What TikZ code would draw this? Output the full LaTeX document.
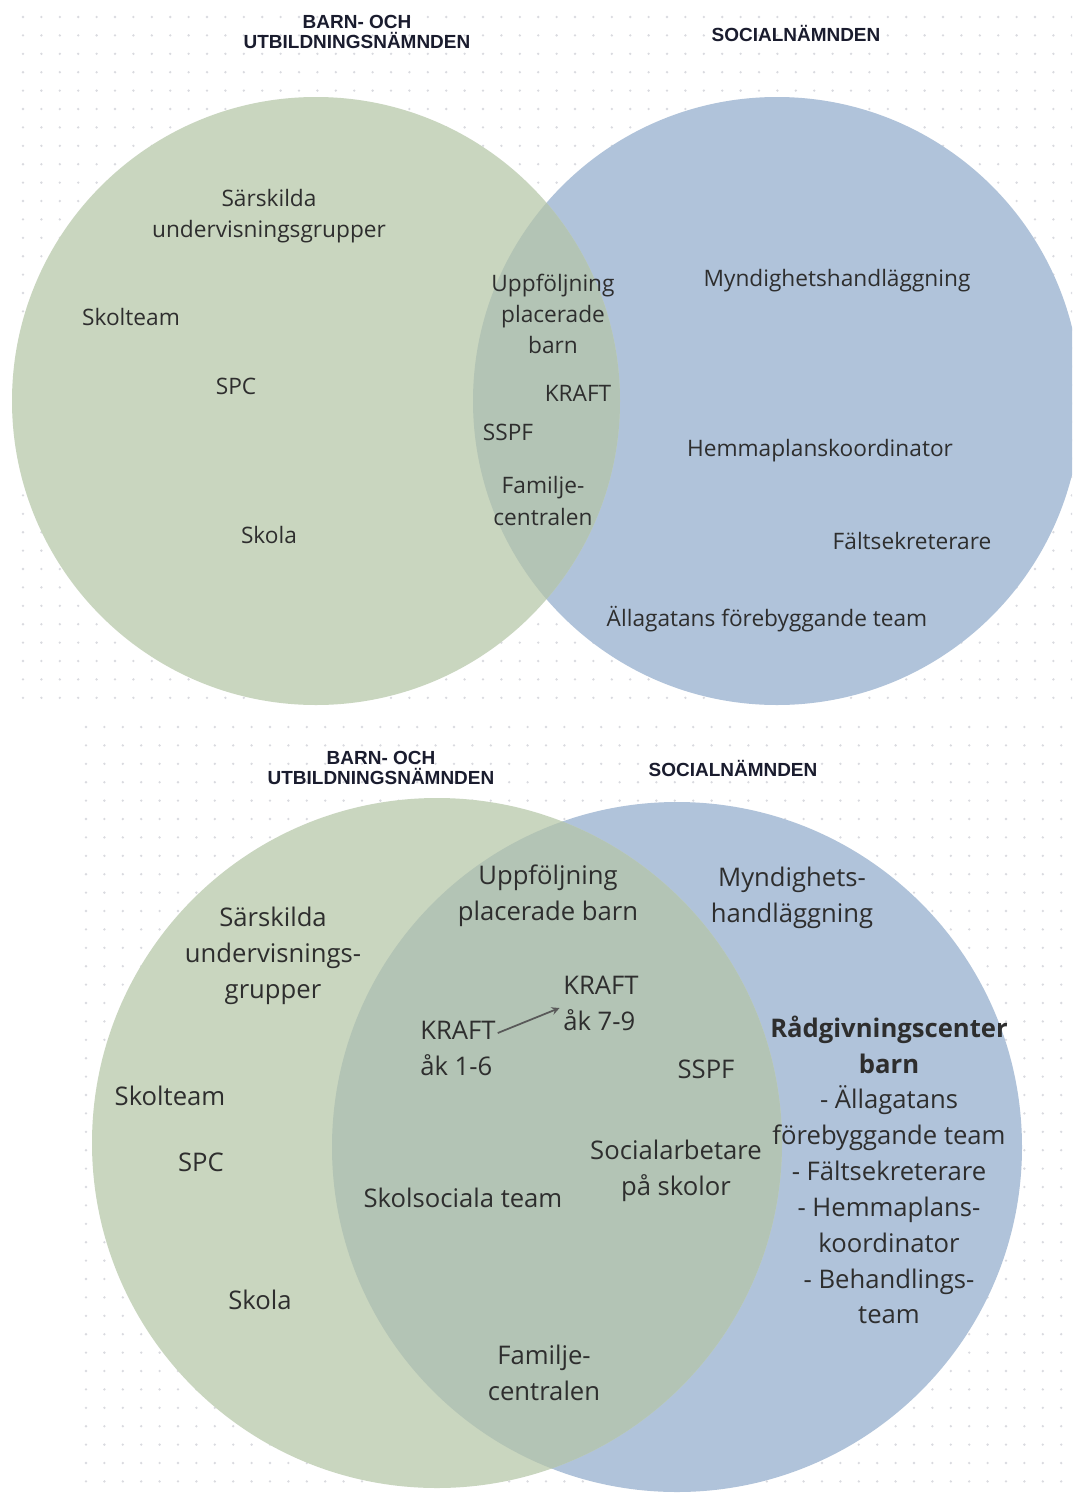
\documentclass[tikz,border=0pt]{standalone}
\usepackage{fontspec}
\setmainfont{Open Sans}
\newfontfamily\headfont{Liberation Sans}
\usepackage{xcolor}
\definecolor{greenfill}{HTML}{C9D6BF}
\definecolor{bluefill}{HTML}{B0C3DA}
\definecolor{mixfill}{HTML}{B3C4B5}
\definecolor{txtc}{HTML}{2E2E2E}
\definecolor{headc}{HTML}{1A1C2E}
\definecolor{dotc}{HTML}{D9DADF}
\begin{document}
\begin{tikzpicture}[
    x=0.02cm, y=-0.02cm,
    lbl/.style={font=\fontsize{12.9}{17.8}\selectfont, align=center, text=txtc, inner sep=2pt},
    lblbig/.style={font=\fontsize{14.6}{20.4}\selectfont, align=center, text=txtc, inner sep=2pt},
    head/.style={font=\headfont\bfseries\fontsize{10.8}{11.4}\selectfont, align=center, text=headc},
    arr/.style={->, >=stealth, line width=1pt, draw=black!65}
]
\useasboundingbox (0,0) rectangle (1072,1501);
\clip (0,0) rectangle (1072,1501);
\fill[white] (0,0) rectangle (1072,1501);
\fill[dotc] \foreach \i in {0,...,57} {\foreach \j in {0,...,37} {(23+18.4*\i,17+18.4*\j) circle (1.3)}};
\fill[dotc] \foreach \i in {0,...,53} {\foreach \j in {0,...,41} {(86+18.4*\i,727+18.4*\j) circle (1.3)}};

\fill[bluefill] (777,401) circle (304);
\fill[greenfill] (316,401) circle (304);
\begin{scope}
\clip (316,401) circle (304);
\fill[mixfill] (777,401) circle (304);
\end{scope}

\node[head] (bun1) at (357,32) {BARN- OCH\\UTBILDNINGSNÄMNDEN};
\node[head] (soc1) at (796,33) {SOCIALNÄMNDEN};
\node[lbl] (sug1) at (269,216) {Särskilda\\undervisningsgrupper};
\node[lbl] (skt1) at (131,317) {Skolteam};
\node[lbl] (spc1) at (236,386) {SPC};
\node[lbl] (sko1) at (269,535) {Skola};
\node[lbl] (upb1) at (553,314) {Uppföljning\\placerade\\barn};
\node[lbl] (kra1) at (578,393) {KRAFT};
\node[lbl] (ssp1) at (508,432) {SSPF};
\node[lbl] (fam1) at (543,501) {Familje-\\centralen};
\node[lbl] (myn1) at (837,281) {Myndighetshandläggning};
\node[lbl] (hem1) at (820,451) {Hemmaplanskoordinator};
\node[lbl] (fal1) at (912,541) {Fältsekreterare};
\node[lbl] (all1) at (767,619) {Ällagatans förebyggande team};

\fill[bluefill] (677,1147) circle (345);
\fill[greenfill] (437,1143) circle (345);
\begin{scope}
\clip (437,1143) circle (345);
\fill[mixfill] (677,1147) circle (345);
\end{scope}

\node[head] (bun2) at (381,768) {BARN- OCH\\UTBILDNINGSNÄMNDEN};
\node[head] (soc2) at (733,768) {SOCIALNÄMNDEN};
\node[lblbig] (upb2) at (548,896) {Uppföljning\\placerade barn};
\node[lblbig] (myn2) at (792,898) {Myndighets-\\handläggning};
\node[lblbig] (sug2) at (273,956) {Särskilda\\undervisnings-\\grupper};
\node[lblbig, align=left] (krau) at (601,1003) {KRAFT\\åk 7-9};
\node[lblbig, align=left] (kral) at (458,1048) {KRAFT\\åk 1-6};
\node[lblbig] (ssp2) at (706,1069) {SSPF};
\node[lblbig] (skt2) at (170,1096) {Skolteam};
\node[lblbig] (spc2) at (201,1162) {SPC};
\node[lblbig] (soa2) at (676,1171) {Socialarbetare\\på skolor};
\node[lblbig] (sst2) at (463,1198) {Skolsociala team};
\node[lblbig] (sko2) at (260,1300) {Skola};
\node[lblbig] (fam2) at (544,1373) {Familje-\\centralen};
\node[lblbig] (rcb2) at (889,1170) {\textbf{Rådgivningscenter}\\\textbf{barn}\\- Ällagatans\\förebyggande team\\- Fältsekreterare\\- Hemmaplans-\\koordinator\\- Behandlings-\\team};
\draw[arr] ([xshift=-1pt, yshift=0.3cm]kral.east) -- ([yshift=-0.1cm]krau.west);
\end{tikzpicture}
\end{document}
